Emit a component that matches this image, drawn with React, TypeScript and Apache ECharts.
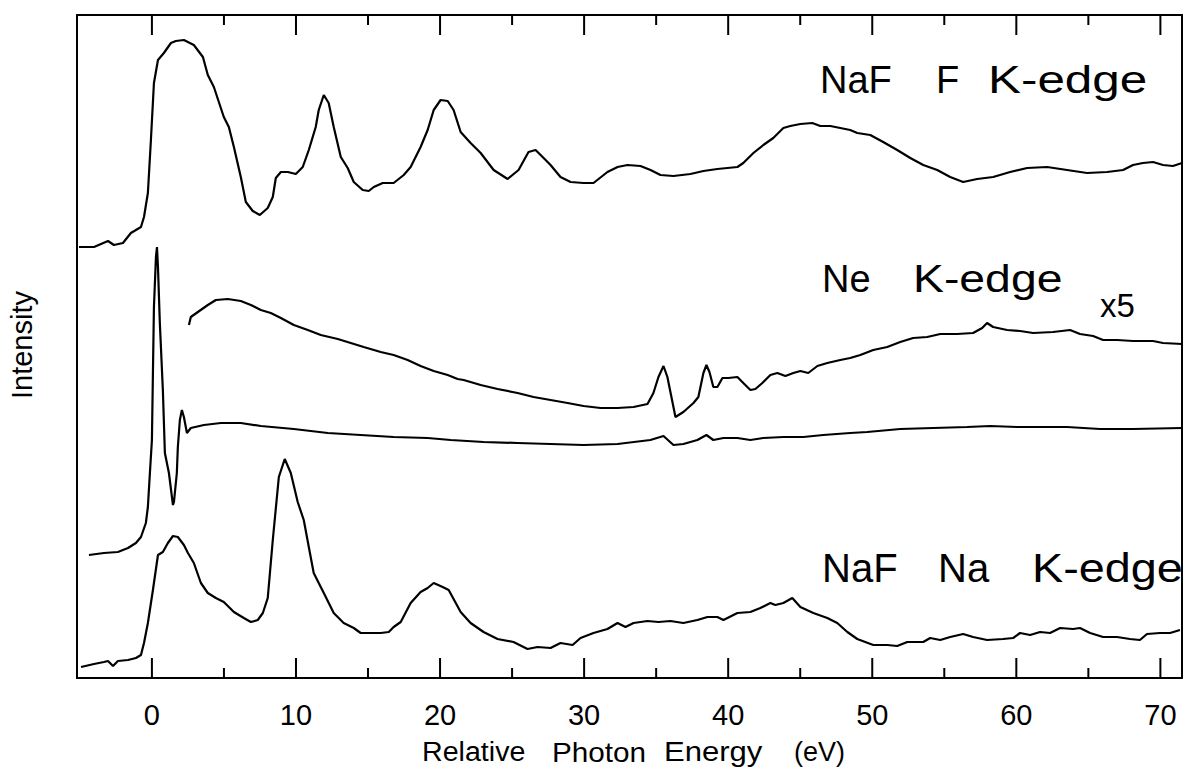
import React, { useEffect, useRef } from "react";
import * as echarts from "echarts";

// x axis: relative photon energy (eV)
const X_MIN = -5.2;
const X_MAX = 71.5;
const Y_MIN = 0;
const Y_MAX = 663;
const majorTicks = [0, 10, 20, 30, 40, 50, 60, 70];
const minorTicks = [5, 15, 25, 35, 45, 55, 65];
// tick lengths in intensity units (the plot is 663 units tall)
const MAJOR_LEN = 20;
const MINOR_LEN = 10;

// NaF F K-edge (top curve) [eV, intensity a.u.]
const nafF: number[][] = [
  [-5.06, 431], [-4.02, 431], [-3.05, 437], [-2.64, 433], [-2.01, 435], [-1.46, 445], [-0.76, 451],
  [-0.55, 461], [-0.28, 485], [-0.07, 538], [0.14, 595], [0.42, 618], [0.83, 625], [1.32, 635],
  [1.66, 637], [2.22, 638], [2.91, 633], [3.54, 621], [3.88, 603], [4.3, 591], [4.99, 561],
  [5.34, 551], [5.69, 531], [6.17, 501], [6.52, 476], [7.0, 467], [7.49, 463], [8.04, 470],
  [8.39, 481], [8.6, 500], [8.95, 506], [9.43, 506], [9.99, 504], [10.47, 511], [10.89, 528],
  [11.37, 551], [11.58, 568], [11.93, 583], [12.27, 575], [12.62, 551], [13.11, 521], [13.59, 510],
  [14.01, 496], [14.63, 488], [15.05, 487], [15.4, 491], [16.02, 495], [16.78, 495], [17.48, 503],
  [17.96, 511], [18.65, 531], [19.14, 548], [19.56, 568], [20.04, 578], [20.53, 577], [20.94, 568],
  [21.43, 546], [22.12, 535], [22.82, 525], [23.72, 508], [24.69, 499], [25.45, 508], [26.14, 526],
  [26.63, 528], [27.12, 521], [27.67, 513], [28.36, 501], [29.06, 496], [29.96, 495], [30.65, 495],
  [31.62, 506], [32.32, 511], [33.01, 513], [33.91, 512], [34.61, 508], [35.3, 503], [36.2, 502],
  [37.38, 504], [38.28, 507], [39.25, 509], [40.64, 511], [41.05, 515], [41.75, 525], [42.44, 533],
  [43.13, 540], [43.83, 550], [44.31, 552], [45.01, 554], [45.84, 555], [46.39, 552], [47.09, 552],
  [47.78, 550], [48.47, 548], [48.96, 545], [49.86, 543], [50.76, 536], [51.73, 528], [52.64, 520],
  [53.54, 513], [54.51, 508], [55.41, 501], [56.31, 496], [57.28, 499], [58.39, 501], [59.57, 506],
  [60.75, 510], [62.14, 511], [63.52, 508], [64.91, 505], [66.3, 506], [67.41, 508], [68.1, 513],
  [68.79, 515], [69.49, 516], [70.18, 513], [70.87, 512], [71.5, 515],
];

// Ne K-edge, x5 (upper Ne curve)
const neX5: number[][] = [
  [2.57, 353], [2.7, 361], [3.19, 366], [3.88, 373], [4.44, 378], [5.27, 379], [6.17, 377],
  [6.87, 373], [7.56, 368], [8.25, 365], [8.95, 360], [9.85, 353], [10.82, 348], [11.72, 343],
  [12.9, 339], [13.8, 335], [14.7, 331], [15.88, 326], [16.78, 323], [17.75, 318], [18.65, 312],
  [19.56, 307], [20.53, 303], [21.22, 299], [21.64, 298], [22.82, 293], [23.99, 289], [25.38, 285],
  [26.49, 281], [27.67, 278], [28.85, 275], [29.96, 272], [31.14, 270], [32.32, 270], [33.43, 271],
  [34.4, 274], [34.81, 285], [35.16, 301], [35.51, 312], [35.78, 301], [36.06, 281], [36.34, 261],
  [36.89, 266], [37.59, 275], [37.93, 281], [38.28, 305], [38.49, 313], [38.7, 306], [38.97, 291],
  [39.25, 291], [39.6, 300], [40.01, 300], [40.64, 301], [41.05, 295], [41.54, 288], [41.89, 289],
  [42.37, 295], [42.93, 303], [43.41, 305], [43.97, 302], [44.52, 305], [45.01, 307], [45.56, 305],
  [46.19, 312], [46.88, 315], [47.78, 318], [48.47, 320], [49.17, 323], [50.07, 328], [51.04, 331],
  [51.94, 336], [52.84, 340], [53.81, 341], [54.72, 344], [55.89, 344], [57.0, 345], [57.63, 350],
  [57.97, 355], [58.39, 351], [59.36, 348], [60.26, 347], [61.17, 345], [62.55, 346], [63.73, 348],
  [64.42, 344], [65.33, 342], [66.02, 338], [66.99, 338], [68.1, 337], [69.49, 337], [70.18, 335],
  [71.5, 334],
];

// Ne K-edge (x1)
const neX1: number[][] = [
  [-4.37, 123], [-3.33, 125], [-2.36, 126], [-1.66, 130], [-1.11, 135], [-0.76, 141], [-0.42, 155],
  [-0.28, 171], [-0.14, 205], [0.0, 238], [0.07, 305], [0.14, 371], [0.28, 421], [0.35, 431],
  [0.42, 411], [0.55, 355], [0.76, 288], [0.9, 225], [1.18, 205], [1.46, 173], [1.53, 176],
  [1.73, 205], [1.8, 231], [1.94, 258], [2.08, 268], [2.22, 261], [2.43, 245], [2.7, 250],
  [3.61, 253], [4.79, 255], [6.17, 255], [7.56, 252], [9.85, 249], [12.21, 245], [14.49, 243],
  [16.78, 241], [19.14, 240], [20.74, 238], [23.02, 236], [25.38, 235], [27.67, 234], [29.96, 233],
  [32.32, 234], [34.6, 238], [35.51, 242], [36.2, 233], [36.89, 234], [37.86, 238], [38.49, 243],
  [38.97, 238], [39.67, 240], [40.64, 240], [41.54, 238], [42.44, 240], [43.83, 241], [45.22, 241],
  [46.6, 243], [48.47, 245], [49.65, 246], [51.94, 249], [54.23, 250], [56.59, 251], [58.18, 252],
  [60.06, 251], [63.52, 251], [65.81, 249], [68.1, 249], [71.5, 250],
];

// NaF Na K-edge (bottom curve)
const nafNa: number[][] = [
  [-4.92, 11], [-4.02, 14], [-3.33, 16], [-3.05, 17], [-2.7, 12], [-2.36, 17], [-1.66, 18],
  [-1.11, 20], [-0.76, 23], [-0.55, 35], [-0.28, 55], [0.07, 88], [0.42, 123], [0.76, 126],
  [1.11, 135], [1.46, 142], [1.8, 141], [2.22, 133], [2.5, 125], [2.91, 115], [3.4, 95],
  [3.88, 85], [4.44, 80], [4.99, 76], [5.69, 66], [6.38, 60], [6.87, 56], [7.35, 58], [7.7, 65],
  [8.04, 80], [8.39, 138], [8.81, 201], [9.22, 219], [9.64, 205], [10.12, 176], [10.54, 158],
  [10.89, 131], [11.23, 105], [11.93, 85], [12.62, 65], [13.31, 55], [14.01, 50], [14.49, 45],
  [15.19, 45], [15.88, 45], [16.44, 46], [16.78, 51], [17.27, 56], [17.96, 75], [18.65, 86],
  [19.14, 90], [19.56, 95], [20.18, 91], [20.6, 88], [21.43, 66], [22.12, 55], [23.02, 46],
  [23.99, 39], [25.1, 36], [26.07, 29], [26.77, 31], [27.67, 30], [28.36, 35], [29.2, 33],
  [29.75, 40], [30.65, 45], [31.62, 49], [32.32, 55], [32.87, 51], [33.43, 55], [34.4, 57],
  [35.16, 56], [35.99, 57], [36.89, 55], [37.86, 58], [38.56, 61], [39.25, 61], [39.67, 58],
  [40.64, 65], [41.54, 66], [42.23, 70], [42.93, 75], [43.27, 73], [43.83, 75], [44.45, 80],
  [45.01, 71], [45.91, 65], [46.88, 60], [47.57, 55], [48.27, 46], [48.96, 39], [50.07, 33],
  [51.04, 33], [51.73, 32], [52.43, 36], [53.54, 36], [54.02, 40], [54.72, 38], [55.41, 41],
  [56.31, 44], [57.0, 41], [57.97, 38], [59.08, 39], [59.78, 40], [60.26, 45], [60.96, 43],
  [61.65, 46], [62.34, 45], [63.04, 50], [63.94, 49], [64.42, 50], [65.12, 45], [66.02, 41],
  [66.99, 41], [67.89, 39], [68.58, 38], [69.07, 44], [69.97, 45], [70.67, 45], [71.36, 48],
];

const FONT = "'Liberation Sans', Arial, sans-serif";
const BLACK = "#000";

function word(text: string, x: number, y: number, size: number, scaleX = 1) {
  return {
    type: "text",
    x,
    y,
    scaleX,
    style: { text, fill: BLACK, font: `${size}px ${FONT}`, textAlign: "left", textVerticalAlign: "middle", verticalAlign: "middle" },
  };
}

function lineSeries(name: string, data: any[], width = 2.2, clip = true) {
  return {
    name,
    type: "line",
    xAxisIndex: 0,
    yAxisIndex: 0,
    data,
    showSymbol: false,
    symbol: "none",
    connectNulls: false,
    lineStyle: { color: BLACK, width },
    clip,
  };
}

// inward tick marks on the top and bottom frame as broken line segments in data space
function tickData(values: number[], len: number): any[] {
  const out: any[] = [];
  values.forEach((v) => {
    out.push([v, Y_MIN], [v, Y_MIN + len], [v, "-"]);
    out.push([v, Y_MAX], [v, Y_MAX - len], [v, "-"]);
  });
  return out;
}

const frameLine = { show: true, onZero: false, lineStyle: { color: BLACK, width: 2 } };

function xFrameAxis(position: "top" | "bottom", showLabel: boolean) {
  return {
    type: "value",
    position,
    min: X_MIN,
    max: X_MAX,
    splitLine: { show: false },
    axisLine: frameLine,
    axisTick: { show: false },
    axisLabel: showLabel
      ? { show: true, customValues: majorTicks, fontSize: 29, color: BLACK, margin: 22, fontFamily: FONT }
      : { show: false },
  };
}

function yFrameAxis(position: "left" | "right") {
  return {
    type: "value",
    position,
    min: Y_MIN,
    max: Y_MAX,
    axisLine: frameLine,
    axisTick: { show: false },
    axisLabel: { show: false },
    splitLine: { show: false },
  };
}

const textElements = [
  word("NaF", 820, 80, 38),
  word("F", 936, 80, 38),
  word("K-edge", 988, 80, 38, 1.3),
  word("Ne", 822, 279, 38),
  word("K-edge", 913, 279, 38, 1.22),
  word("x5", 1100, 305, 33),
  word("NaF", 822, 568, 40),
  word("Na", 938, 568, 40),
  word("K-edge", 1032, 568, 40, 1.17),
  word("Relative", 422, 752, 27, 1.06),
  word("Photon", 552, 752, 27, 1.1),
  word("Energy", 664, 752, 27, 1.15),
  word("(eV)", 794, 752, 27),
  {
    type: "text",
    x: 22,
    y: 345,
    rotation: Math.PI / 2,
    style: { text: "Intensity", fill: BLACK, font: `29px ${FONT}`, textAlign: "center", textVerticalAlign: "middle", verticalAlign: "middle" },
  },
];

export default function App() {
  const ref = useRef<HTMLDivElement>(null);
  useEffect(() => {
    if (!ref.current) return;
    const chart = echarts.init(ref.current, null, { renderer: "svg" });
    chart.setOption({
      animation: false,
      backgroundColor: "#fff",
      grid: { left: 77, top: 15, width: 1105, height: 663, show: false, containLabel: false },
      xAxis: [xFrameAxis("bottom", true), xFrameAxis("top", false)],
      yAxis: [yFrameAxis("left"), yFrameAxis("right")],
      series: [
        lineSeries("NaF F K-edge", nafF),
        lineSeries("Ne K-edge x5", neX5),
        lineSeries("Ne K-edge", neX1),
        lineSeries("NaF Na K-edge", nafNa),
        lineSeries("major ticks", tickData(majorTicks, MAJOR_LEN), 2, false),
        lineSeries("minor ticks", tickData(minorTicks, MINOR_LEN), 2, false),
      ],
      graphic: { elements: textElements },
    });
    return () => chart.dispose();
  }, []);
  return (
    <div
      ref={ref}
      style={{ position: "fixed", left: 0, top: 0, width: 1185, height: 781, background: "#fff" }}
    />
  );
}
